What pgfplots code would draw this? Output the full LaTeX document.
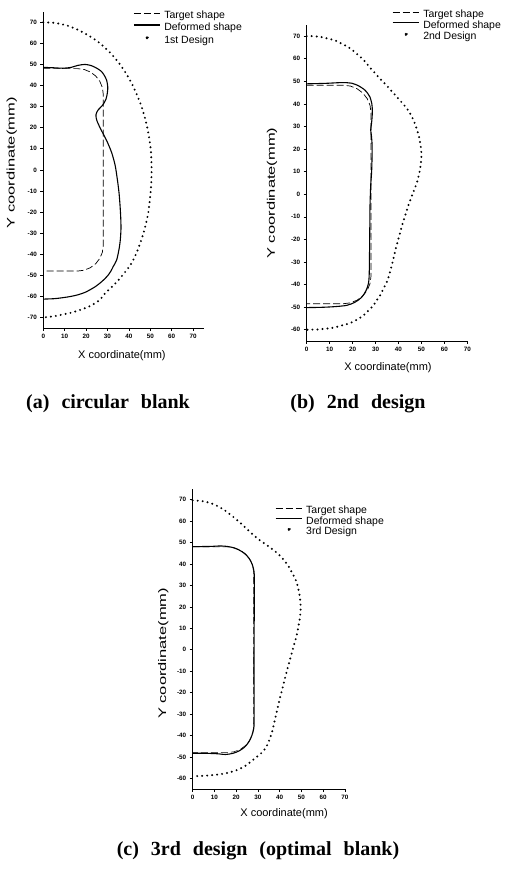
\documentclass[border=0pt]{standalone}
\usepackage{fontspec}
\setmainfont{Liberation Serif}
\newfontfamily\arialf{Liberation Sans}
\usepackage{graphicx}
\usepackage{pgfplots}
\pgfplotsset{compat=1.18}

% shared look of the three panels
\pgfplotsset{
  panel/.style={
    scale only axis, anchor=south west, clip=false,
    axis lines*=left, xmin=0, xtick={0,10,...,70},
    tick align=outside, major tick length=3pt,
    axis line style={line width=0.8pt},
    every tick/.style={black, line width=0.6pt},
    /pgf/number format/assume math mode=true,
    tick label style={font=\arialf\bfseries\fontsize{6.3}{7}\selectfont},
    label style={font=\arialf\fontsize{11}{12}\selectfont},
    xlabel={X coordinate(mm)},
    ylabel={\scalebox{1.5}[1]{Y coordinate(mm)}},
    legend cell align=left,
    legend image code/.code={\draw[##1] (0pt,3pt) -- (26pt,3pt);},
    legend style={draw=none, fill=none, inner sep=0pt, column sep=4pt,
      anchor=north west, font=\arialf\fontsize{10.5}{11}\selectfont,
      nodes={inner sep=0pt, text height=7.5pt, text depth=2pt}},
  },
  target/.style={black, line width=0.7pt, dash pattern=on 7pt off 3pt},
  deformed/.style={black, line width=1.1pt, smooth},
  design/.style={black, line width=2.2pt, line cap=round,
    dash pattern=on 0pt off 5pt, smooth,
    legend image code/.code={\fill[black] (13pt,3pt) circle (1.1pt);}},
}

\begin{document}
\begin{tikzpicture}
\useasboundingbox (0pt,0pt) rectangle (508pt,871pt);

% (a) circular blank
\begin{axis}[panel, at={(43.3pt,543pt)},
  width=160.5pt, height=316.3pt, xmax=75, ymin=-75, ymax=75,
  ytick={-70,-60,...,70},
  xlabel style={at={(axis description cs:0.49,0)}, anchor=center, yshift=-28pt},
  ylabel style={at={(axis description cs:-0.197,0.522)}, anchor=center},
  legend style={at={(axis description cs:0.559,1.002)}, row sep=2.5pt}]
\addplot[target] coordinates {(0,48) (16,48) (19.1,47.6) (22,46.4) (24.5,44.5) (26.4,42) (27.6,39.1) (28,36)
  (28,-36) (27.6,-39.1) (26.4,-42) (24.5,-44.5) (22,-46.4) (19.1,-47.6) (16,-48) (0,-48)};
\addlegendentry{Target shape}
\addplot[deformed] coordinates {(0,48.6) (5,48.4) (9.3,48.2) (13,48.6) (16,49.5) (19.5,50) (22.5,49.4) (25,48.2)
  (27,46.8) (28.4,45) (29.6,42.5) (30.1,39.5) (30,37) (29.3,33.5) (27.6,30.5) (25.6,28.4) (24.6,26.1)
  (25,23.5) (26.5,20) (28.3,16.5) (30,13) (32,8) (33.6,2) (34.6,-4.5) (35.4,-11) (35.9,-17.5)
  (36.2,-23) (36.3,-28) (36,-33) (35.5,-37) (34.3,-42.7) (32.7,-45.8) (31.7,-47.8) (30.4,-49.8)
  (28.6,-51.8) (26.5,-53.7) (24.3,-55.4) (21.8,-56.9) (19.5,-58.1) (16.4,-59.2) (13,-60)
  (9.3,-60.6) (5,-61.1) (0,-61.3)};
\addlegendentry{Deformed shape}
\addplot[design] coordinates {(0,70) (6,69.6) (11.5,68.3) (16.6,66.2) (20.6,64) (23.8,62) (26.5,60)
  (30.8,56) (34.3,52) (37.2,48) (39.7,44) (41.8,40) (44,35) (45.9,30) (47.4,25) (48.6,20) (49.5,15)
  (50.2,10) (50.5,5) (50.6,0) (50.5,-5) (50.2,-10) (49.7,-15) (49.1,-20) (48.1,-25) (46.8,-30)
  (45.2,-35) (43.3,-40) (40.8,-45) (37,-50) (34.5,-53) (31.5,-56) (28.5,-59) (26.5,-61.6)
  (23.4,-63.7) (20.3,-65.3) (16.4,-66.7) (12.5,-67.9) (8.6,-68.7) (4.7,-69.5) (0,-70)};
\addlegendentry{1st Design}
\end{axis}

% (b) 2nd design
\begin{axis}[panel, at={(306.7pt,530pt)},
  width=160.6pt, height=316.1pt, xmax=70, ymin=-65, ymax=75,
  ytick={-60,-50,...,70},
  xlabel style={at={(axis description cs:0.506,0)}, anchor=center, yshift=-27pt},
  ylabel style={at={(axis description cs:-0.216,0.468)}, anchor=center},
  legend style={at={(axis description cs:0.531,1.047)}, row sep=1.3pt}]
\addplot[target] coordinates {(0,48.3) (16,48.3) (19.1,47.9) (22,46.7) (24.5,44.8) (26.4,42.3) (27.6,39.4) (28,36.3)
  (28,-36.5) (27.6,-39.6) (26.4,-42.5) (24.5,-45) (22,-46.9) (19.1,-48.1) (16,-48.5) (0,-48.5)};
\addlegendentry{Target shape}
\addplot[deformed] coordinates {(0,48.9) (8,49.1) (14,49.4) (17.5,49.4) (19.5,49.2) (21.8,48.4) (23.8,47.3)
  (25.5,46) (26.7,44.5) (27.6,43) (28.4,40) (28.6,37) (28.5,34) (28.2,31) (27.9,28.5) (28.2,26)
  (28.5,22) (28.5,17) (28.3,10) (27.9,4) (27.6,-5) (27.5,-15) (27.4,-25) (27.3,-33) (27.2,-36.7)
  (26.9,-39.6) (25.9,-42.6) (24,-45.6) (21.1,-47.8) (17.5,-49.2) (12,-49.8) (6,-50.1) (0,-50.2)};
\addlegendentry{Deformed shape}
\addplot[design] coordinates {(0,70) (2.9,70) (6.6,69.6) (9.4,68.9) (12.4,68.1) (14.8,66.9) (17.5,65.5)
  (19.7,64) (21.8,62.2) (24,60.3) (26.2,57.8) (28,55.6) (29.8,53.6) (32,51.1) (34.2,48.9) (36.1,46.7)
  (38.1,44.5) (40,42.3) (42,40) (44,37.5) (46,34) (47.6,30) (48.8,26) (49.6,22) (50,18) (49.8,14)
  (49.2,10) (48,5) (46.5,1) (45,-3) (43.5,-7.5) (41.8,-13) (40.2,-19) (38.6,-25) (37.2,-31)
  (35.9,-36) (34.9,-38.9) (33.4,-41.9) (32,-44.8) (30.5,-47) (29.1,-49.2) (26.9,-51.5) (24.7,-53.7)
  (21.8,-55.6) (18.9,-57.1) (15.3,-58.1) (11.6,-59.1) (8,-59.6) (4.4,-59.9) (0,-60)};
\addlegendentry{2nd Design}
\end{axis}

% (c) 3rd design
\begin{axis}[panel, at={(192.7pt,82pt)},
  width=152.3pt, height=300pt, xmax=70, ymin=-65, ymax=75,
  ytick={-60,-50,...,70},
  xlabel style={at={(axis description cs:0.6,0)}, anchor=center, yshift=-25pt},
  ylabel style={at={(axis description cs:-0.193,0.452)}, anchor=center},
  legend style={at={(axis description cs:0.54,0.943)}, row sep=0.8pt}]
\addplot[target, line width=0.5pt] coordinates {(0,48) (16,48) (19.1,47.6) (22,46.4) (24.5,44.5) (26.4,42) (27.6,39.1) (28,36)
  (28,-36) (27.6,-39.1) (26.4,-42) (24.5,-44.5) (22,-46.4) (19.1,-47.6) (16,-48) (0,-48)};
\addlegendentry{Target shape}
\addplot[deformed] coordinates {(0,48.1) (8,48.2) (12,48.4) (15,48.3) (18,47.8) (21,46.7) (23.7,45)
  (25.8,42.8) (27.3,40) (28.1,37) (28.3,34) (28.3,20) (28.2,0) (28.2,-20) (28.2,-34) (28,-37)
  (27.2,-40) (25.8,-43) (23.8,-45.5) (21.2,-47.3) (18.3,-48.4) (15,-48.9) (12,-48.6) (8,-48.4) (0,-48.3)};
\addlegendentry{Deformed shape}
\addplot[design] coordinates {(0,69.7) (4,69.4) (8,68.5) (11.5,67) (14.8,65) (18,62.5) (21,60) (24,57.2)
  (27.1,54.3) (30,51.7) (33.2,49.4) (36.5,47) (39.3,44.7) (41.8,42) (43.9,39.2) (45.8,35.7) (47.5,32.2)
  (48.6,28.2) (49.3,24.3) (49.6,19.6) (49.3,15) (48.5,10.3) (47.5,5.5) (46.2,0.9) (44.6,-5) (43,-11)
  (41.5,-17) (40,-23) (38.6,-29) (37.3,-35) (36,-40) (34,-45) (31.8,-48) (29.4,-50) (27,-52)
  (24.8,-53.8) (21.7,-55.6) (18.5,-56.8) (15.6,-57.6) (12,-58.2) (8,-58.6) (4,-58.9) (0,-59)};
\addlegendentry{3rd Design}
\end{axis}

% captions
\begin{scope}[every node/.style={font=\bfseries\fontsize{20}{24}\selectfont, inner sep=0pt}]
\node at (108pt,467pt) {(a)\hspace{12pt}circular\hspace{12pt}blank};
\node at (358pt,467pt) {(b)\hspace{12pt}2nd\hspace{12pt}design};
\node at (258pt,20pt) {(c)\hspace{12pt}3rd\hspace{12pt}design\hspace{12pt}(optimal\hspace{12pt}blank)};
\end{scope}
\end{tikzpicture}
\end{document}
